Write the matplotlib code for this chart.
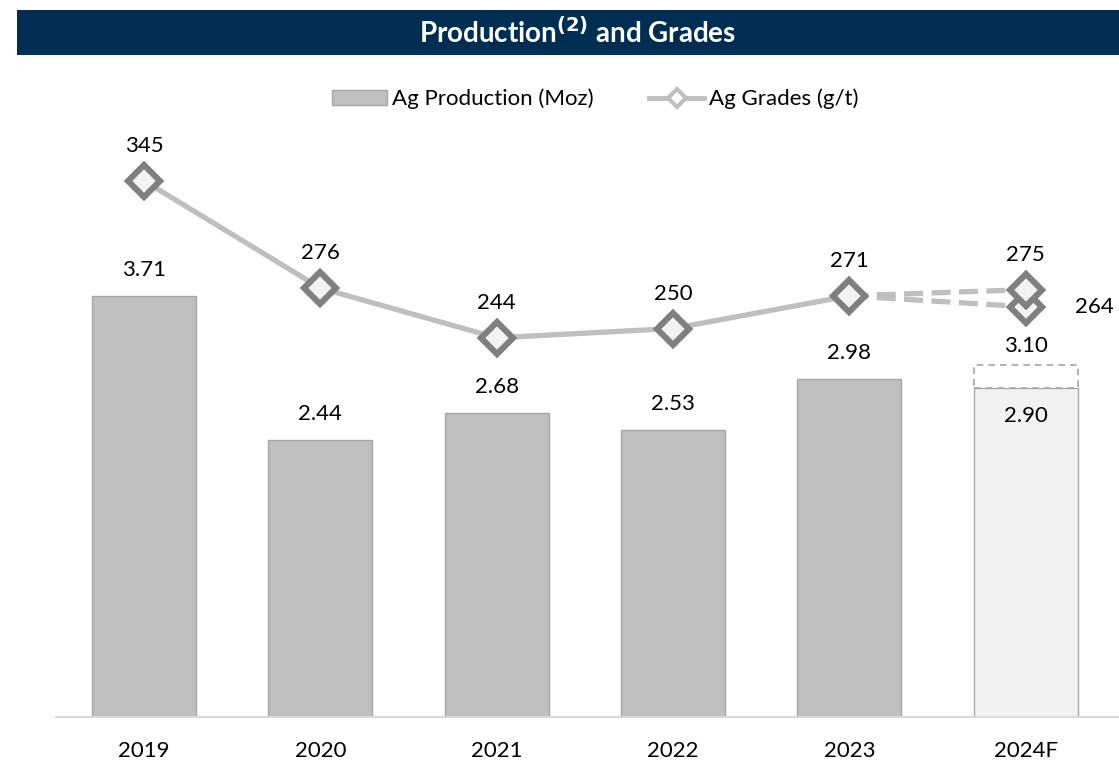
import matplotlib
matplotlib.use("Agg")
import matplotlib.pyplot as plt
from matplotlib.patches import Rectangle, Patch
from matplotlib.lines import Line2D

plt.rcParams['font.family'] = ['Lato', 'DejaVu Sans']

years = ['2019', '2020', '2021', '2022', '2023', '2024F']
production = [3.71, 2.44, 2.68, 2.53, 2.98, 2.90]
production_high_2024 = 3.10
grades = [345, 276, 244, 250, 271]
grades_2024_high = 275
grades_2024_low = 264

BAR = '#BFBFBF'
BAR_EDGE = '#A6A6A6'
LINE = '#BFBFBF'
MK_EDGE = '#7F7F7F'
MK_FACE = '#F2F2F2'
NAVY = '#002E52'
FS = 16

fig = plt.figure(figsize=(11.19, 7.64), dpi=100)
W, H = 1119, 764
fig.patches.append(Rectangle((17 / W, 1 - 55 / H), 1 - 17 / W, 45 / H,
                             transform=fig.transFigure, facecolor=NAVY,
                             edgecolor='none', zorder=0))
fig.text(578 / W, 1 - 32.5 / H, r'Production$^{\mathbf{(2)}}$ and Grades',
         color='white', fontsize=20, fontweight='bold', ha='center', va='center')

ax = fig.add_axes([56 / W, 47 / H, 1 - 56 / W, (717 - 130) / H])
ax2 = ax.twinx()

x = list(range(len(years)))
bw = 0.59
ax.bar(x[:5], production[:5], width=bw, color=BAR, edgecolor=BAR_EDGE, linewidth=1)
ax.bar(x[5], production[5], width=bw, color=MK_FACE, edgecolor=BAR_EDGE, linewidth=1)
ax.bar(x[5], production_high_2024 - production[5], bottom=production[5], width=bw,
       facecolor='white', edgecolor=BAR_EDGE, linewidth=1.2, linestyle=(0, (4, 3)))

ax.set_xlim(-0.5, 5.53)
ax.set_ylim(0, (717 - 130) / 113.5)
ax2.set_ylim(0, (717 - 130) / 1.554)

for i in range(5):
    ax.text(x[i], production[i] + 0.14, f'{production[i]:.2f}', ha='center',
            va='bottom', fontsize=FS)
ax.text(x[5], production_high_2024 + 0.08, f'{production_high_2024:.2f}', ha='center',
        va='bottom', fontsize=FS)
ax.text(x[5], production[5] - 0.25, f'{production[5]:.2f}', ha='center',
        va='center', fontsize=FS)

ax2.plot(x[:5], grades, color=LINE, lw=3.8, solid_capstyle='round', zorder=2)
for v in (grades_2024_high, grades_2024_low):
    ax2.plot([x[4], x[5]], [grades[4], v], color=LINE, lw=3.8,
             linestyle=(0, (3.6, 1.6)), zorder=2)
mk = dict(marker='D', ms=16, mew=4.4, mec=MK_EDGE, mfc=MK_FACE, linestyle='none', zorder=3)
ax2.plot(x[:5], grades, **mk)
ax2.plot([x[5], x[5]], [grades_2024_low, grades_2024_high], **mk)

for i in range(5):
    ax2.text(x[i], grades[i] + 16, str(grades[i]), ha='center', va='bottom', fontsize=FS)
ax2.text(x[5], grades_2024_high + 16, str(grades_2024_high), ha='center', va='bottom',
         fontsize=FS)
ax2.text(x[5] + 0.28, grades_2024_low, str(grades_2024_low), ha='left', va='center',
         fontsize=FS)

for a in (ax, ax2):
    for s in ('top', 'right', 'left', 'bottom'):
        a.spines[s].set_visible(False)
    a.set_yticks([])
ax.spines['bottom'].set_visible(True)
ax.spines['bottom'].set_color('#D9D9D9')
ax.spines['bottom'].set_linewidth(1.5)
ax.set_xticks(x)
ax.set_xticklabels(years, fontsize=FS)
ax.tick_params(axis='x', length=0, pad=17)
ax2.tick_params(length=0)

handles = [Patch(facecolor=BAR, edgecolor=BAR_EDGE),
           Line2D([0], [0], color=LINE, lw=3.5, marker='D', ms=9, mew=3,
                  mec=LINE, mfc='white')]
fig.legend(handles, ['Ag Production (Moz)', 'Ag Grades (g/t)'], loc='center',
           bbox_to_anchor=(595 / W, 1 - 99 / H), ncol=2, frameon=False, fontsize=FS,
           handlelength=2.5, handletextpad=0.2, columnspacing=2.5)

fig.savefig('out.png', dpi=100)
